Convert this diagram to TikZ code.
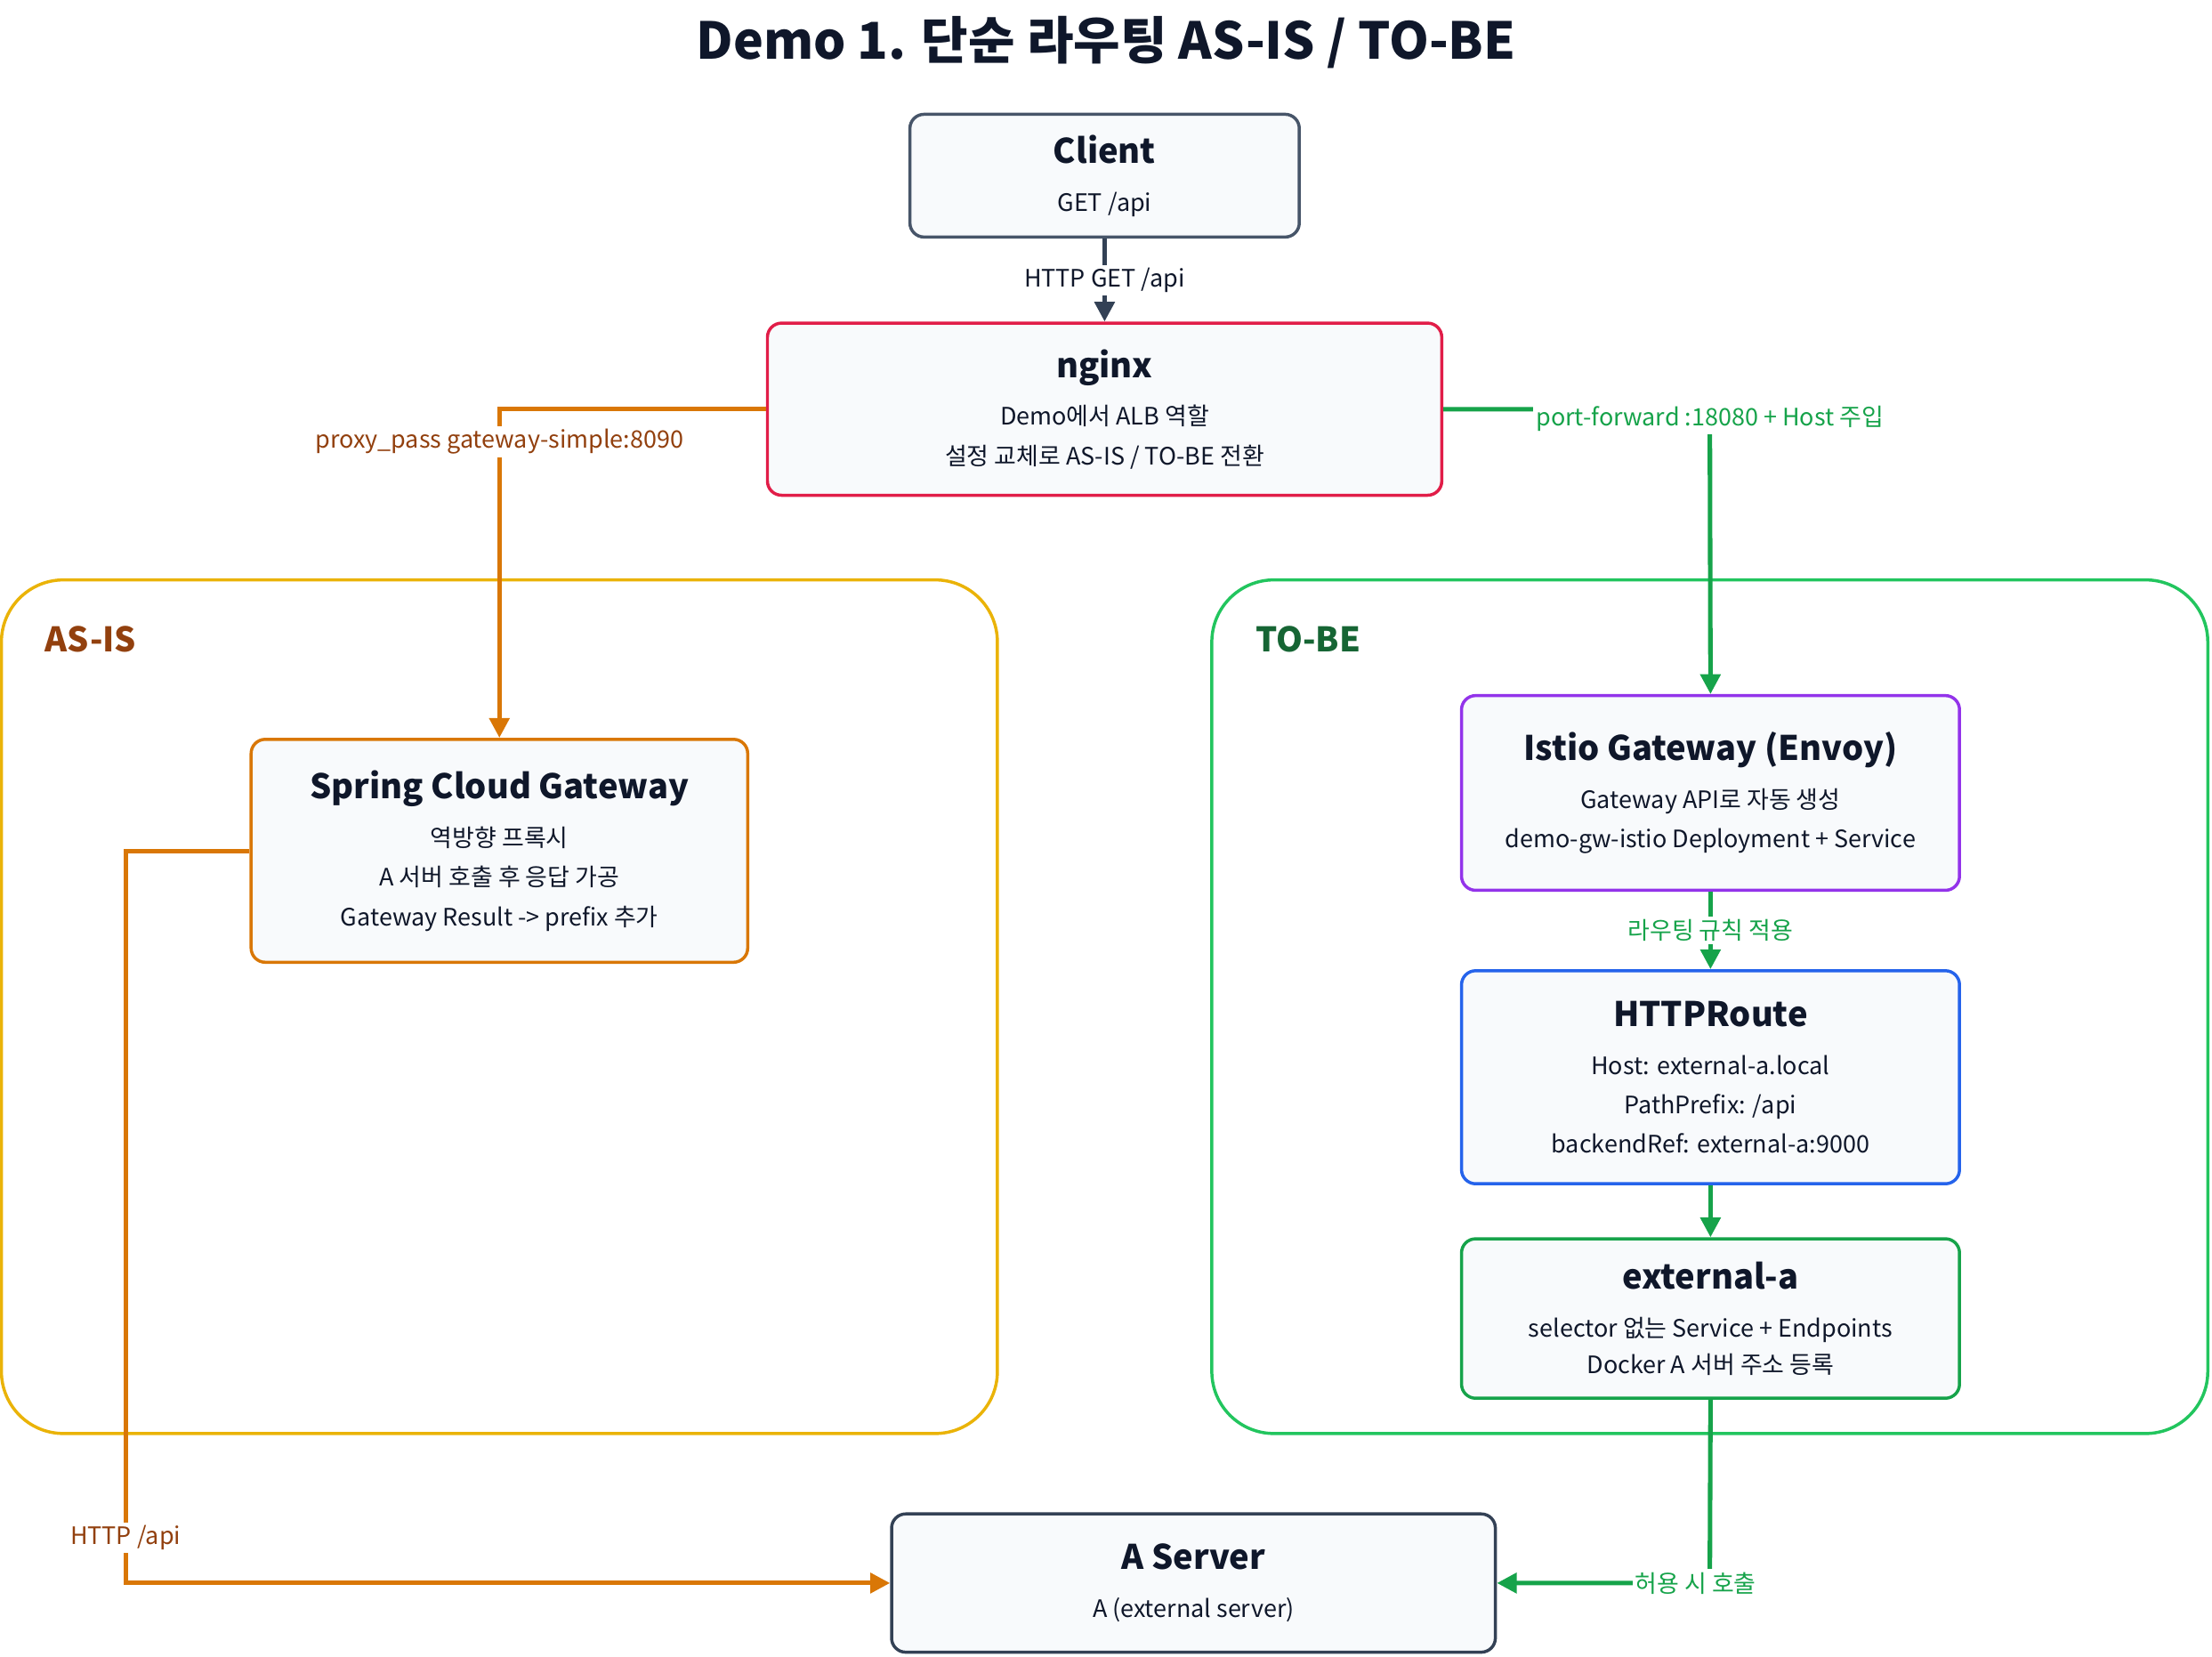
\documentclass[tikz,border=0pt]{standalone}
\usepackage{fontspec}
\setmainfont{Noto Sans CJK KR}
\usetikzlibrary{arrows.meta,positioning}
\definecolor{slate}{HTML}{475569}
\definecolor{dslate}{HTML}{334155}
\definecolor{nred}{HTML}{E11D48}
\definecolor{amber}{HTML}{EAB308}
\definecolor{orng}{HTML}{D97706}
\definecolor{brwn}{HTML}{92400E}
\definecolor{grn}{HTML}{16A34A}
\definecolor{lgrn}{HTML}{22C55E}
\definecolor{dgrn}{HTML}{166534}
\definecolor{purp}{HTML}{9333EA}
\definecolor{blu}{HTML}{2563EB}
\definecolor{boxfill}{HTML}{F8FAFC}
\definecolor{ink}{HTML}{0F172A}
\newcommand{\ttl}[1]{{\fontsize{12}{14}\selectfont\bfseries #1}\\[3pt]}
\begin{document}
\begin{tikzpicture}[x=0.5pt,y=-0.5pt,>={Triangle[length=7pt,width=7pt]},
  box/.style={draw,rounded corners=5pt,line width=1.1pt,fill=boxfill,align=center,
    font=\fontsize{8.5}{14}\selectfont,text=ink,inner sep=0pt},
  zone/.style={draw,rounded corners=22pt,line width=1.1pt},
  wire/.style={->,line width=1.6pt},
  lbl/.style={font=\fontsize{8.5}{10}\selectfont,fill=white,inner sep=1pt}]

\useasboundingbox (0,0) rectangle (1568,1174);
\node[font=\fontsize{18}{20}\selectfont\bfseries,text=ink] (title) at (784,30) {Demo 1. 단순 라우팅 AS-IS / TO-BE};

% zones
\draw[zone,amber] (1,411) rectangle (707,1016);
\draw[zone,lgrn] (859,411) rectangle (1565,1016);
\node[anchor=west,font=\fontsize{12}{14}\selectfont\bfseries,text=brwn] (asis) at (25,453) {AS-IS};
\node[anchor=west,font=\fontsize{12}{14}\selectfont\bfseries,text=dgrn] (tobe) at (883,453) {TO-BE};

% boxes
\node[box,draw=slate,minimum width=138pt,minimum height=43.5pt] (client) at (783,124.5)
  {\ttl{Client}GET /api};
\node[box,draw=nred,minimum width=239pt,minimum height=61pt] (nginx) at (783,290)
  {\ttl{nginx}Demo에서 ALB 역할\\설정 교체로 AS-IS / TO-BE 전환};
\node[box,draw=orng,minimum width=176pt,minimum height=79pt] (scg) at (354,603)
  {\ttl{Spring Cloud Gateway}역방향 프록시\\A 서버 호출 후 응답 가공\\Gateway Result -> prefix 추가};
\node[box,draw=purp,minimum width=176.5pt,minimum height=69pt] (istio) at (1212.5,562)
  {\ttl{Istio Gateway (Envoy)}Gateway API로 자동 생성\\demo-gw-istio Deployment + Service};
\node[box,draw=blu,minimum width=176.5pt,minimum height=75.5pt] (route) at (1212.5,763.5)
  {\ttl{HTTPRoute}Host: external-a.local\\PathPrefix: /api\\backendRef: external-a:9000};
\node[box,draw=grn,minimum width=176.5pt,minimum height=56.5pt] (exta) at (1212.5,934.5)
  {\ttl{external-a}selector 없는 Service + Endpoints\\[-1pt]Docker A 서버 주소 등록};
\node[box,draw=dslate,minimum width=214pt,minimum height=49pt] (aserver) at (846,1122)
  {\ttl{A Server}A (external server)};

\coordinate (upL) at (354,290);
\coordinate (upR) at (1212,290);
\coordinate (dnR) at (1212,1122);
\coordinate (scgW) at (89,603);
\coordinate (dnL) at (89,1122);

% connectors
\draw[wire,dslate] (client) -- node[lbl,text=ink]{HTTP GET /api} (nginx);
\draw[wire,orng] (nginx.west) -- (upL) -- (scg.north);
\node[lbl,text=brwn] (pp) at (354,313) {proxy\_pass gateway-simple:8090};
\draw[wire,grn] (nginx.east) -- (upR) -- (istio.north);
\node[lbl,text=grn] (pf) at (1212,297) {port-forward :18080 + Host 주입};
\draw[wire,grn] (istio) -- node[lbl,text=grn]{라우팅 규칙 적용} (route);
\draw[wire,grn] (route) -- (exta);
\draw[wire,grn] (exta.south) -- (dnR) -- (aserver.east);
\node[lbl,text=grn] (call) at (1202,1122) {허용 시 호출};
\draw[wire,orng] (scg.west) -- (scgW) -- (dnL) -- (aserver.west);
\node[lbl,text=brwn] (hapi) at (89,1090) {HTTP /api};
\end{tikzpicture}
\end{document}
